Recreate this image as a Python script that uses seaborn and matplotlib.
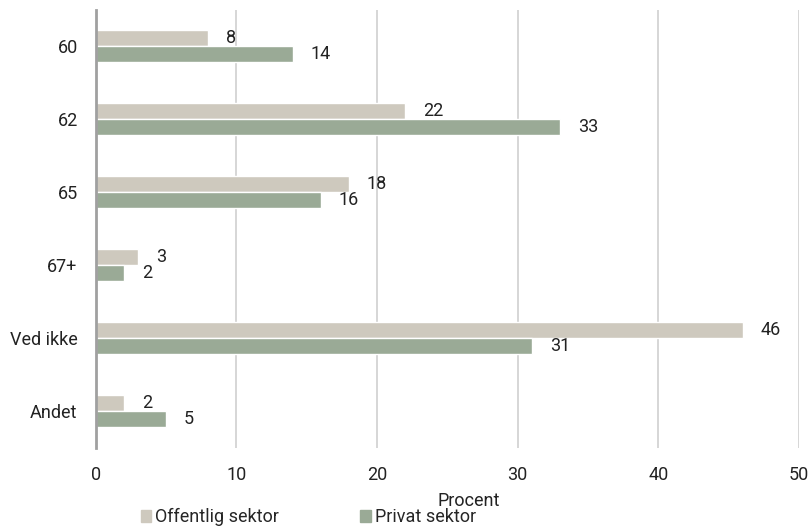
import seaborn as sns
from matplotlib import pyplot as plt
import pandas as pd

categories = ["60", "62", "65", "67+", "Ved ikke", "Andet"]
offentlig = [8, 22, 18, 3, 46, 2]
privat = [14, 33, 16, 2, 31, 5]
series = ["Offentlig sektor", "Privat sektor"]
colors = ["#cec9be", "#9aaa96"]

df = pd.DataFrame({
    "kategori": categories * 2,
    "procent": offentlig + privat,
    "sektor": [series[0]] * len(categories) + [series[1]] * len(categories),
})

sns.set_style("white")
plt.rcParams["font.family"] = ["Roboto", "DejaVu Sans"]
plt.rcParams["font.size"] = 13

fig, ax = plt.subplots(figsize=(8.11, 5.30), dpi=100)
fig.subplots_adjust(left=0.118, right=0.985, top=0.982, bottom=0.155)

sns.barplot(data=df, y="kategori", x="procent", hue="sektor", order=categories,
            hue_order=series, palette=colors, orient="h", width=0.44,
            saturation=1, ax=ax, legend=False)

for c in ax.containers:
    ax.bar_label(c, padding=13, fontsize=13, color="#222222")

ax.set_xlim(0, 50)
ax.set_xticks([0, 10, 20, 30, 40, 50])
ax.xaxis.grid(True, color="#d0d0d0", linewidth=1.2)
ax.set_axisbelow(True)
for s in ["top", "right", "bottom"]:
    ax.spines[s].set_visible(False)
ax.spines["left"].set_color("#a0a0a0")
ax.spines["left"].set_linewidth(2)
ax.tick_params(axis="both", length=0, labelsize=13, colors="#222222", pad=13)
ax.set_ylabel("")
ax.set_xlabel("Procent", fontsize=13, color="#222222")
ax.xaxis.set_label_coords(0.53, -0.1)

handles = [plt.Rectangle((0, 0), 1, 1, color=col) for col in colors]
fig.legend(handles, series, loc="center", bbox_to_anchor=(0.38, 0.024), ncol=2,
           frameon=False, handlelength=0.6, handleheight=0.6, handletextpad=0.2,
           columnspacing=4.5, fontsize=13, borderpad=0.1)

fig.savefig("out.png", dpi=100)
